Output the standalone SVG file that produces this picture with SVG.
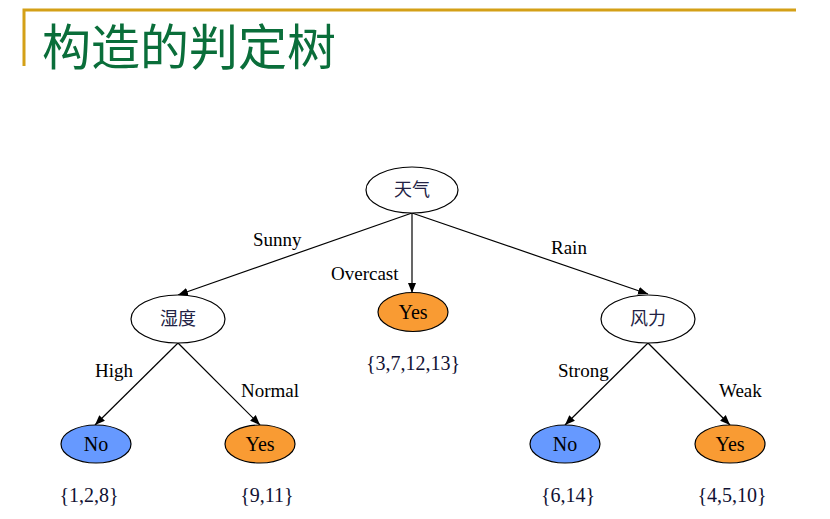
<svg xmlns="http://www.w3.org/2000/svg" width="830" height="519" viewBox="0 0 830 519">
<style>
.node{stroke:#000;stroke-width:1.2}
.plain{fill:#fff}
.yes{fill:#F99B33}
.no{fill:#6699FF}
.lbl{font-family:"Liberation Serif","Noto Serif",serif;font-size:19px;fill:#000}
.set{font-family:"Liberation Serif",serif;font-size:20px;fill:#111133;text-anchor:middle}
.cn{font-family:"Noto Sans CJK SC",sans-serif;font-size:18px;fill:#222244;text-anchor:middle}
.in{font-family:"Liberation Serif",serif;font-size:20px;fill:#000;text-anchor:middle}
.edge{stroke:#000;stroke-width:1.2;fill:none;marker-end:url(#arr)}
</style>
<defs>
<marker id="arr" viewBox="0 0 10 10" refX="10" refY="5" markerWidth="10" markerHeight="10" markerUnits="userSpaceOnUse" orient="auto">
<path d="M0,1 L10,5 L0,9 Z" fill="#000"/>
</marker>
</defs>
<rect width="830" height="519" fill="#fff"/>
<g id="title">
<path d="M24,66 V10 H796" stroke="#D4A017" stroke-width="3" fill="none"/>
<text x="42" y="65" font-family="Noto Sans CJK SC,sans-serif" font-size="49" fill="#0A6E3A">构造的判定树</text>
</g>
<g id="connectors">
<line class="edge" x1="412" y1="213" x2="178" y2="295"/>
<line class="edge" x1="412" y1="213" x2="412" y2="293"/>
<line class="edge" x1="412" y1="213" x2="648" y2="294"/>
<line class="edge" x1="178" y1="343" x2="95" y2="425"/>
<line class="edge" x1="178" y1="343" x2="260" y2="425"/>
<line class="edge" x1="648" y1="343" x2="565" y2="425"/>
<line class="edge" x1="648" y1="343" x2="730" y2="425"/>
<text class="lbl" x="253" y="246">Sunny</text>
<text class="lbl" x="331" y="280">Overcast</text>
<text class="lbl" x="551" y="254">Rain</text>
<text class="lbl" x="95" y="377">High</text>
<text class="lbl" x="241" y="397">Normal</text>
<text class="lbl" x="558" y="377">Strong</text>
<text class="lbl" x="719" y="397">Weak</text>
</g>
<g id="n-weather">
<ellipse class="node plain" cx="412" cy="190" rx="46" ry="23"/>
<text class="cn" x="412" y="196">天气</text>
</g>
<g id="n-humidity">
<ellipse class="node plain" cx="178" cy="319" rx="47" ry="24"/>
<text class="cn" x="178" y="325">湿度</text>
</g>
<g id="n-overcast-yes">
<ellipse class="node yes" cx="413" cy="312" rx="35" ry="19.5"/>
<text class="in" x="413" y="319">Yes</text>
<text class="set" x="413" y="370">{3,7,12,13}</text>
</g>
<g id="n-wind">
<ellipse class="node plain" cx="648" cy="319" rx="47" ry="24"/>
<text class="cn" x="648" y="325">风力</text>
</g>
<g id="n-high-no">
<ellipse class="node no" cx="96" cy="444" rx="35" ry="19"/>
<text class="in" x="96" y="451">No</text>
<text class="set" x="89" y="502">{1,2,8}</text>
</g>
<g id="n-normal-yes">
<ellipse class="node yes" cx="260" cy="444" rx="35" ry="19"/>
<text class="in" x="260" y="451">Yes</text>
<text class="set" x="267" y="502">{9,11}</text>
</g>
<g id="n-strong-no">
<ellipse class="node no" cx="565" cy="444" rx="35" ry="19"/>
<text class="in" x="565" y="451">No</text>
<text class="set" x="568" y="502">{6,14}</text>
</g>
<g id="n-weak-yes">
<ellipse class="node yes" cx="730" cy="444" rx="35" ry="19"/>
<text class="in" x="730" y="451">Yes</text>
<text class="set" x="732" y="502">{4,5,10}</text>
</g>
</svg>
